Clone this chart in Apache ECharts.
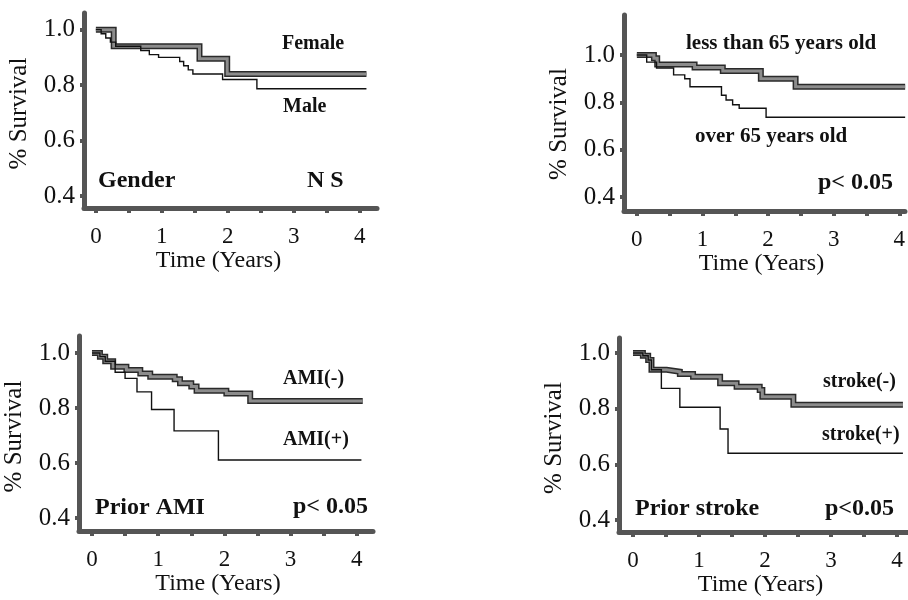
<!DOCTYPE html>
<html>
<head>
<meta charset="utf-8">
<script src="https://cdn.jsdelivr.net/npm/echarts@6/dist/echarts.min.js"></script>
<style>html,body{margin:0;padding:0;background:#fff}#c{width:908px;height:600px}</style>
</head>
<body>
<div id="c"></div>
<script>
// ---- data (time in years, survival fraction) ----
const xTickLabels = [0, 1, 2, 3, 4];
const xTickMarks = [0, 0.5, 1, 1.5, 2, 2.5, 3, 3.5, 4];
const yTickLabels = [0.4, 0.6, 0.8, 1.0];

const female = [[0,1.0],[0.27,0.94],[1.57,0.895],[1.99,0.84],[4.1,0.84]];
const male = [[0,1.0],[0.08,0.985],[0.15,0.97],[0.22,0.955],[0.3,0.94],[0.68,0.925],[0.81,0.91],[0.95,0.9],[1.27,0.885],[1.33,0.87],[1.4,0.855],[1.47,0.84],[1.92,0.82],[2.44,0.787],[4.1,0.787]];

const under65 = [[0,1.0],[0.26,0.986],[0.31,0.96],[0.88,0.947],[1.31,0.932],[1.89,0.9],[2.42,0.866],[4.09,0.866]];
const over65 = [[0,1.0],[0.15,0.97],[0.3,0.945],[0.56,0.916],[0.73,0.9],[0.81,0.866],[1.29,0.83],[1.36,0.81],[1.46,0.79],[1.56,0.775],[1.97,0.737],[4.09,0.737]];

const amiNeg = [[0,1.0],[0.12,0.987],[0.2,0.97],[0.32,0.95],[0.52,0.938],[0.73,0.926],[0.88,0.914],[1.25,0.905],[1.33,0.89],[1.5,0.878],[1.58,0.863],[2.03,0.853],[2.39,0.826],[4.09,0.826]];
const amiPos = [[0,1.0],[0.12,0.987],[0.2,0.97],[0.35,0.93],[0.5,0.908],[0.68,0.859],[0.9,0.795],[1.24,0.717],[1.91,0.611],[4.07,0.611]];

const strokeNeg = [[0,1.0],[0.15,0.99],[0.23,0.975],[0.28,0.94],[0.51,0.933],[0.71,0.925],[0.91,0.915],[1.32,0.891],[1.57,0.879],[1.92,0.867],[1.96,0.843],[2.43,0.814],[4.09,0.814]];
const strokePos = [[0,1.0],[0.15,0.99],[0.23,0.975],[0.28,0.94],[0.43,0.873],[0.71,0.805],[1.32,0.727],[1.44,0.64],[4.09,0.64]];

// ---- layout ----
const panels = [
  {grid:{left:84,top:13,width:293,height:195}, x:[-0.18,4.26], y:[0.357,1.06], thick:female, thin:male, xnamePad:[0,24,0,0], ynamePad:[0,6,0,0]},
  {grid:{left:624,top:15,width:284,height:196}, x:[-0.196,4.087], y:[0.341,1.169], thick:under65, thin:over65, xnamePad:[0,6,0,0], ynamePad:[0,22,0,0]},
  {grid:{left:79,top:336,width:294,height:195}, x:[-0.196,4.245], y:[0.353,1.062], thick:amiNeg, thin:amiPos, xnamePad:[0,16,0,0], ynamePad:[0,6,0,0]},
  {grid:{left:619,top:338,width:289,height:194}, x:[-0.212,4.167], y:[0.357,1.054], thick:strokeNeg, thin:strokePos, xnamePad:[0,6,0,0], ynamePad:[0,6,0,0]}
];

const serif = '"Liberation Serif", "DejaVu Serif", serif';
const axisColor = '#555';

const grids = [], xAxes = [], yAxes = [], series = [];
panels.forEach((p, i) => {
  grids.push(Object.assign({containLabel:false}, p.grid));
  xAxes.push({
    type:'value', gridIndex:i, min:p.x[0], max:p.x[1],
    splitLine:{show:false},
    axisLine:{show:true, onZero:false, lineStyle:{color:axisColor, width:5}},
    axisTick:{show:true, customValues:xTickMarks, length:5, lineStyle:{color:axisColor, width:4}},
    axisLabel:{customValues:xTickLabels, fontSize:23, fontFamily:serif, color:'#111', margin:17},
    name:'Time (Years)', nameLocation:'middle', nameGap:40,
    nameTextStyle:{fontSize:24, fontFamily:serif, color:'#111', padding:p.xnamePad}
  });
  yAxes.push({
    type:'value', gridIndex:i, min:p.y[0], max:p.y[1],
    splitLine:{show:false},
    axisLine:{show:true, onZero:false, lineStyle:{color:axisColor, width:5}},
    axisTick:{show:true, customValues:yTickLabels, length:4, lineStyle:{color:axisColor, width:4}},
    axisLabel:{customValues:yTickLabels, fontSize:25, fontFamily:serif, color:'#111', margin:9,
      formatter:v => v.toFixed(1)},
    name:'% Survival', nameLocation:'middle', nameGap:52,
    nameTextStyle:{fontSize:25, fontFamily:serif, color:'#111', padding:p.ynamePad}
  });
  // thick curve: dark outline + gray band
  series.push({type:'line', xAxisIndex:i, yAxisIndex:i, data:p.thick, step:'end', showSymbol:false, silent:true,
    lineStyle:{color:'#2a2a2a', width:6, join:'miter', cap:'butt'}, z:3});
  series.push({type:'line', xAxisIndex:i, yAxisIndex:i, data:p.thick, step:'end', showSymbol:false, silent:true,
    lineStyle:{color:'#8c8c8c', width:3, join:'miter', cap:'butt'}, z:4});
  // thin curve
  series.push({type:'line', xAxisIndex:i, yAxisIndex:i, data:p.thin, step:'end', showSymbol:false, silent:true,
    lineStyle:{color:'#111', width:1.4, join:'miter'}, z:5});
});

function label(text, left, cy, size) {
  return {type:'text', left:left, top:cy - size*0.6, z:10,
    style:{text:text, fontSize:size, fontWeight:'bold', fontFamily:serif, fill:'#111'}};
}
const graphics = [
  label('Female', 282, 46, 20), label('Male', 283, 109, 20),
  label('Gender', 98, 183, 24), label('N S', 307, 183, 24),
  label('less than 65 years old', 686, 46, 21), label('over 65 years old', 695, 139, 21),
  label('p< 0.05', 818, 185, 24),
  label('AMI(-)', 283, 381, 20), label('AMI(+)', 283, 442, 20),
  label('Prior AMI', 95, 510, 24), label('p< 0.05', 293, 509, 24),
  label('stroke(-)', 823, 384, 20), label('stroke(+)', 822, 437, 20),
  label('Prior stroke', 635, 511, 24), label('p<0.05', 825, 511, 24)
];

const chart = echarts.init(document.getElementById('c'), null, {renderer:'canvas'});
chart.setOption({
  animation:false,
  backgroundColor:'#fff',
  grid:grids, xAxis:xAxes, yAxis:yAxes, series:series, graphic:graphics
});
</script>
</body>
</html>
